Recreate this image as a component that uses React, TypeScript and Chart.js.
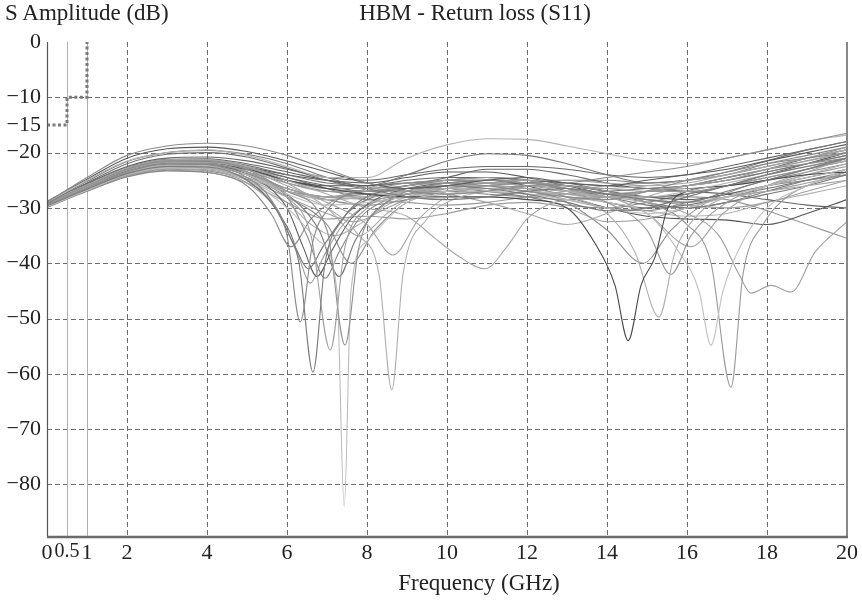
import React, { useEffect, useRef } from "react";
import { Chart, registerables } from "chart.js";
Chart.register(...registerables);

const xTicks = [0, 0.5, 1, 2, 4, 6, 8, 10, 12, 14, 16, 18, 20];
const yTicks = [0, -10, -15, -20, -30, -40, -50, -60, -70, -80];
const xGrid = [2, 4, 6, 8, 10, 12, 14, 16, 18];
const yGrid = [-10, -20, -30, -40, -50, -60, -70, -80];
const refLines = [0.5, 1];
const maskFreq = [0, 0.5, 0.5, 1, 1];
const maskLimit = [-15, -15, -10, -10, 0];

// S11 traces: [frequency GHz, amplitude dB]
const s01 = [[0,-29],[1,-24.5],[2,-20.5],[3,-18.8],[4,-18.3],[5,-18.8],[6,-20.5],[7,-23],[8,-25.5],[9,-27],[10,-27.5],[11,-27],[12,-26],[13,-25.5],[14,-24.5],[15,-23.5],[16,-22.5],[17,-21],[18,-19.5],[19,-18],[20,-16.5]];
const s02 = [[0,-29],[1,-25],[2,-21.5],[3,-20],[4,-19.5],[5,-20.5],[6,-22.5],[7,-24.5],[8,-24.5],[9,-21],[10,-18.6],[11,-17.5],[12,-17.6],[13,-18.8],[14,-20.2],[15,-21.5],[16,-22],[17,-21],[18,-19.5],[19,-18],[20,-16.8]];
const s03 = [[0,-28.8],[1,-24.8],[2,-21],[3,-19.3],[4,-19],[5,-19.8],[6,-21.5],[7,-23.5],[8,-25.5],[9,-26.5],[10,-26],[11,-25],[12,-24.5],[13,-25.5],[14,-26],[15,-25],[16,-24],[17,-23],[18,-21.5],[19,-20],[20,-18.5]];
const s04 = [[0,-29.2],[1,-25.2],[2,-21.6],[3,-20],[4,-19.6],[5,-20.3],[6,-22],[7,-24.5],[8,-26.5],[9,-28],[10,-28.5],[11,-28],[12,-27],[13,-26.5],[14,-27.5],[15,-28.5],[16,-29],[17,-27],[18,-25],[19,-23],[20,-21]];
const s05 = [[0,-29.5],[1,-26.5],[2,-23.5],[3,-22],[4,-22.2],[5,-24.5],[5.6,-28.5],[6,-35],[6.33,-50.6],[6.65,-36],[7,-30.5],[8,-26.5],[9,-25.5],[10,-25.5],[11,-26],[12,-27],[13,-28],[14,-28.5],[15,-27],[16,-25],[17,-23.5],[18,-22],[19,-21],[20,-20]];
const s06 = [[0,-29.6],[1,-26.6],[2,-23.8],[3,-22.5],[4,-22.6],[5,-25],[5.8,-31],[6.3,-40],[6.65,-59.7],[6.95,-40],[7.4,-32],[8,-28],[9,-26.5],[10,-26],[11,-26.5],[12,-27.5],[13,-29],[14,-30.5],[15,-30],[16,-28],[17,-26],[18,-24],[19,-22.5],[20,-21]];
const s07 = [[0,-29.4],[1,-26.4],[2,-23.4],[3,-22],[4,-22],[5,-23.5],[6,-28],[6.6,-35],[7.08,-55.7],[7.45,-37],[8,-30],[9,-27.5],[10,-26.5],[11,-26],[12,-26.5],[13,-27.5],[14,-28],[15,-27],[16,-26],[17,-25],[18,-23],[19,-21.5],[20,-20]];
const s08 = [[0,-29.2],[1,-26],[2,-23],[3,-21.5],[4,-21.5],[5,-23],[6,-27],[7,-34],[7.45,-54.8],[7.8,-37],[8.5,-29],[9,-27],[10,-25.5],[11,-25],[12,-25.5],[13,-26.5],[14,-27.5],[15,-27],[16,-26],[17,-24.5],[18,-23],[19,-22],[20,-21]];
const s09 = [[0,-29.8],[1,-26.8],[2,-24],[3,-22.8],[4,-23],[5,-25],[6,-30],[6.8,-36],[7.25,-45],[7.43,-84],[7.6,-45],[8,-36],[9,-29],[10,-27.5],[11,-27],[12,-27.5],[13,-28.5],[14,-30],[15,-31],[16,-30],[17,-28],[18,-26],[19,-24.5],[20,-23]];
const s10 = [[0,-29.5],[1,-26.5],[2,-23.6],[3,-22.3],[4,-22.5],[5,-24],[6,-27],[7,-30],[7.8,-35],[8.3,-42],[8.62,-62.9],[8.9,-42],[9.5,-32],[10,-29],[11,-27],[12,-26.5],[13,-27],[14,-28],[15,-28],[16,-27],[17,-25.5],[18,-24],[19,-22.5],[20,-21.5]];
const s11 = [[0,-29.3],[1,-26.2],[2,-23.2],[3,-21.8],[4,-21.8],[5,-23],[6,-26],[7,-29],[8,-33],[8.65,-38.5],[9.3,-32],[10,-28],[11,-26],[12,-25],[13,-25],[14,-25.5],[15,-26],[16,-25.5],[17,-24],[18,-22.5],[19,-21],[20,-19.5]];
const s12 = [[0,-29],[1,-25.8],[2,-22.8],[3,-21.3],[4,-21.3],[5,-22.5],[6,-25],[7,-27.5],[8,-30],[9,-31.5],[9.7,-35.5],[10.3,-38.8],[10.95,-41],[11.5,-37],[12,-32],[12.5,-29.5],[13,-28.5],[14,-28],[15,-28.5],[16,-29],[17,-28],[18,-27],[19,-26],[20,-25]];
const s13 = [[0,-29.4],[1,-26.3],[2,-23.3],[3,-22],[4,-22],[5,-23],[6,-25],[7,-26.5],[8,-27.5],[9,-28],[10,-28],[11,-28],[12,-28.5],[13,-30],[13.7,-36.4],[14.2,-44],[14.53,-54],[14.85,-44],[15.2,-38.9],[15.5,-30.4],[16,-27],[17,-26],[18,-25],[19,-24],[20,-23.5]];
const s14 = [[0,-29.7],[1,-26.7],[2,-23.9],[3,-22.7],[4,-22.8],[5,-24.5],[6,-27],[7,-28.5],[8,-28],[9,-27],[10,-26.5],[11,-26.5],[12,-27],[13,-28],[14,-31],[14.7,-38],[15.3,-49.7],[15.7,-38],[16.3,-31],[17,-28],[18,-26],[19,-24],[20,-22]];
const s15 = [[0,-29.2],[1,-26.1],[2,-23.1],[3,-21.7],[4,-21.7],[5,-22.8],[6,-25.5],[7,-27],[8,-27],[9,-26],[10,-25],[11,-24.5],[12,-25],[13,-26.5],[14,-29],[15,-34],[15.6,-42],[16.1,-35],[17,-29],[18,-26],[19,-24],[20,-22.5]];
const s16 = [[0,-29.5],[1,-26.4],[2,-23.5],[3,-22.2],[4,-22.3],[5,-24],[6,-27.5],[7,-29.5],[8,-29],[9,-28],[10,-27],[11,-26.5],[12,-27],[13,-27.5],[14,-29],[15,-31],[15.8,-38],[16.3,-45],[16.6,-54.8],[16.9,-45],[17.4,-36],[18,-30],[19,-26],[20,-23]];
const s17 = [[0,-29.1],[1,-25.9],[2,-22.9],[3,-21.5],[4,-21.4],[5,-22.6],[6,-25],[7,-26.5],[8,-26.5],[9,-25.5],[10,-25],[11,-25],[12,-25.5],[13,-26],[14,-27],[15,-29],[16,-33],[16.6,-40],[17.1,-62.4],[17.4,-42],[17.9,-33],[18.5,-28],[19,-26],[20,-23.5]];
const s18 = [[0,-29.6],[1,-26.5],[2,-23.7],[3,-22.4],[4,-22.5],[5,-24],[6,-26.5],[7,-28],[8,-28],[9,-27],[10,-26],[11,-25.5],[12,-26],[13,-27],[14,-28],[15,-29],[16,-31],[16.8,-35],[17.3,-42],[17.6,-45.4],[18.1,-44],[18.6,-45.2],[19.2,-38],[20,-32.5]];
const s19 = [[0,-29.3],[1,-26.2],[2,-23.3],[3,-21.9],[4,-22],[5,-23.5],[6,-26.5],[7,-28],[8,-27.5],[9,-26.5],[10,-26],[11,-26],[12,-26.5],[13,-29],[14,-34],[14.9,-40],[15.6,-34],[16.5,-29],[17.5,-26],[18.5,-24],[20,-21]];
const s20 = [[0,-29.5],[1,-26.5],[2,-23.6],[3,-22.3],[4,-22.4],[5,-24],[6,-27],[7,-28.5],[8,-28],[9,-27],[10,-26.5],[11,-26.5],[12,-27],[13,-27.5],[14,-28],[15,-31],[16.1,-37],[16.9,-31],[18,-26],[19,-23.5],[20,-21]];
const s21 = [[0,-29.4],[1,-26.2],[2,-23.2],[3,-21.8],[4,-21.8],[5,-23],[6,-25],[7,-26],[8,-26],[9,-25.5],[10,-25],[11,-25],[12,-26],[13,-28],[14,-30],[15,-31.5],[16,-32],[17,-32.2],[18,-33],[19,-31],[20,-28.5]];
const s22 = [[0,-29.7],[1,-26.7],[2,-24],[3,-22.8],[4,-23],[5,-25],[5.7,-30],[6.2,-37],[6.53,-41],[6.9,-37],[7.5,-31],[8,-28.5],[9,-27],[10,-26.5],[11,-26.5],[12,-27],[13,-27.5],[14,-27],[15,-26.5],[16,-26],[17,-25],[18,-23.5],[19,-22],[20,-20.5]];
const s23 = [[0,-29.4],[1,-26.4],[2,-23.5],[3,-22.2],[4,-22.3],[5,-24],[6,-30],[6.4,-37],[6.75,-42.4],[7.1,-38],[7.6,-32],[8.2,-28.5],[9,-26.5],[10,-25.5],[11,-25],[12,-25.5],[13,-26],[14,-27],[15,-28],[16,-28.5],[17,-27.5],[18,-26],[19,-24.5],[20,-23]];
const s24 = [[0,-29.2],[1,-26],[2,-23],[3,-21.7],[4,-21.8],[5,-23.5],[6,-28],[6.5,-35],[6.95,-42.7],[7.3,-38],[7.8,-32],[8.5,-28.5],[9,-27.5],[10,-27],[11,-27.5],[12,-28],[13,-28.5],[14,-28],[15,-27],[16,-26.5],[17,-26],[18,-25],[19,-23.5],[20,-22]];
const s25 = [[0,-29.6],[1,-26.6],[2,-23.7],[3,-22.4],[4,-22.5],[5,-24],[6,-27.5],[6.8,-34],[7.3,-42.4],[7.7,-36],[8.3,-30],[9,-27.5],[10,-26],[11,-25.5],[12,-25.5],[13,-26.5],[14,-28],[15,-29.5],[16,-30],[17,-29],[18,-27.5],[19,-26],[20,-24]];
const s26 = [[0,-29.8],[1,-26.9],[2,-24.2],[3,-23],[4,-23.3],[5,-25.5],[5.8,-31],[6.3,-39],[6.58,-43.6],[6.9,-39],[7.4,-33],[8,-29.5],[9,-28],[10,-27],[11,-26.5],[12,-26],[13,-26],[14,-26.5],[15,-27],[16,-27],[17,-26],[18,-24.5],[19,-23],[20,-21.5]];
const s27 = [[0,-29],[1,-25.9],[2,-22.9],[3,-21.4],[4,-21.3],[5,-22.5],[6,-25.5],[7,-30],[7.8,-35],[8.5,-31],[9,-28.5],[10,-26.5],[11,-25.5],[12,-25.5],[13,-26],[14,-26.5],[15,-26],[16,-25],[17,-24],[18,-22.5],[19,-21],[20,-19.5]];
const s28 = [[0,-29.9],[1,-27],[2,-24.4],[3,-23.3],[4,-23.6],[5,-26],[5.6,-31],[6.1,-37],[6.6,-32],[7.2,-28.5],[8,-27],[9,-26.5],[10,-26.5],[11,-27],[12,-28],[13,-29.5],[14,-30],[15,-29],[16,-27.5],[17,-26],[18,-24.5],[19,-23],[20,-21.5]];
const s29 = [[0,-29.1],[1,-25.9],[2,-22.9],[3,-21.4],[4,-21.3],[5,-22.3],[6,-24],[7,-25.5],[8,-26],[9,-24],[10,-21.5],[11,-20.2],[12,-20.5],[13,-22],[14,-24],[15,-25.5],[16,-25],[17,-23.5],[18,-21.5],[19,-19.5],[20,-18]];
const s30 = [[0,-29.3],[1,-26.2],[2,-23.2],[3,-21.8],[4,-21.7],[5,-22.8],[6,-24.5],[7,-26],[8,-27],[9,-26],[10,-24.5],[11,-23],[12,-23],[13,-24],[14,-25.5],[15,-26.5],[16,-26],[17,-24.5],[18,-23],[19,-21],[20,-19.5]];
const s31 = [[0,-29.5],[1,-26.5],[2,-23.6],[3,-22.2],[4,-22.2],[5,-23.5],[6,-25.5],[7,-27],[8,-27.5],[9,-27.5],[10,-27],[11,-26.5],[12,-26.5],[13,-27],[14,-27.5],[15,-27],[16,-26],[17,-25],[18,-23.5],[19,-22],[20,-20.5]];
const s32 = [[0,-29.8],[1,-26.8],[2,-24.1],[3,-22.9],[4,-23.1],[5,-24.8],[6,-27],[7,-28],[8,-28.5],[9,-29],[10,-29.5],[11,-29],[12,-28],[13,-27],[14,-26],[15,-25.5],[16,-25],[17,-24],[18,-22.5],[19,-21],[20,-19]];
const s33 = [[0,-29],[1,-25.7],[2,-22.7],[3,-21.2],[4,-21.1],[5,-22],[6,-23.5],[7,-25],[8,-26],[9,-25],[10,-24.5],[11,-24.5],[12,-25],[13,-25.5],[14,-26],[15,-26.5],[16,-27],[17,-27.5],[18,-28.5],[19,-29.5],[20,-30]];
const s34 = [[0,-29.4],[1,-26.3],[2,-23.4],[3,-22],[4,-22],[5,-23.2],[6,-25],[7,-26.5],[8,-27],[9,-26],[10,-25.5],[11,-25.5],[12,-26],[13,-26.5],[14,-27.5],[15,-28],[16,-28],[17,-28.5],[18,-30.5],[19,-33],[20,-35.5]];
const s35 = [[0,-29.6],[1,-26.6],[2,-23.8],[3,-22.5],[4,-22.7],[5,-24.5],[6,-27],[7,-28],[8,-27],[9,-27],[10,-27.5],[11,-29],[12,-31],[13,-33],[14,-31],[15,-28],[16,-26],[17,-24.5],[18,-23],[19,-21.5],[20,-20]];
const s36 = [[0,-29.2],[1,-26],[2,-23],[3,-21.6],[4,-21.5],[5,-22.6],[6,-24.5],[7,-26.5],[8,-28.5],[9,-27.5],[10,-26],[11,-25],[12,-25],[13,-25.5],[14,-27],[15,-29],[16,-30],[17,-29],[18,-27],[19,-25],[20,-23.5]];
const s37 = [[0,-29.3],[1,-26.1],[2,-23.1],[3,-21.7],[4,-21.6],[5,-22.6],[6,-24],[7,-25],[8,-25.5],[9,-24.5],[10,-23.5],[11,-23.5],[12,-24.5],[13,-26],[14,-27.5],[15,-28],[16,-27.5],[17,-26],[18,-24],[19,-22],[20,-20]];
const s38 = [[0,-29.5],[1,-26.4],[2,-23.5],[3,-22.1],[4,-22.1],[5,-23.8],[6,-26.5],[7,-28.5],[8,-29.5],[9,-28.5],[10,-27],[11,-26],[12,-25.5],[13,-25],[14,-25],[15,-25.5],[16,-25],[17,-24],[18,-22],[19,-20.5],[20,-19]];
const s39 = [[0,-29.7],[1,-26.7],[2,-23.9],[3,-22.6],[4,-22.8],[5,-24.8],[6,-28],[7,-31],[7.7,-32.5],[8.5,-30],[9,-28.5],[10,-27],[11,-26],[12,-25.5],[13,-26],[14,-27],[15,-28.5],[16,-29.5],[17,-30],[18,-29],[19,-27],[20,-25]];
const s40 = [[0,-29],[1,-25.6],[2,-22.5],[3,-21],[4,-20.8],[5,-21.5],[6,-23],[7,-24.5],[8,-25],[9,-24],[10,-23],[11,-22.5],[12,-22.5],[13,-23],[14,-24],[15,-24.5],[16,-24],[17,-22.5],[18,-21],[19,-19.5],[20,-18]];
const s41 = [[0,-29.8],[1,-26.9],[2,-24.3],[3,-23.2],[4,-23.5],[5,-25.5],[6,-29],[7,-32],[8,-31.5],[9,-32],[10,-31],[11,-29.5],[12,-29],[13,-30],[14,-32.5],[15,-32],[16,-30],[17,-28],[18,-27],[19,-25.5],[20,-24]];
const s42 = [[0,-29.3],[1,-26.2],[2,-23.3],[3,-22],[4,-22.2],[5,-24],[6,-28],[7,-33],[7.6,-40],[8.2,-34],[9,-29],[10,-27],[11,-26.5],[12,-27],[13,-28.5],[14,-30],[15,-30.5],[16,-29],[17,-27.5],[18,-26],[19,-25],[20,-24]];
const s43 = [[0,-29.1],[1,-25.5],[2,-22],[3,-20.3],[4,-20],[5,-20.8],[6,-22.8],[7,-25],[8,-26.5],[9,-26],[10,-25],[11,-24.5],[12,-25],[13,-27],[14,-29],[15,-30],[16,-29.5],[17,-28],[18,-26.5],[19,-25],[20,-24]];
const s44 = [[0,-29.6],[1,-26.6],[2,-23.9],[3,-22.6],[4,-22.9],[5,-25],[6,-29],[6.6,-33],[7.2,-35],[7.8,-33],[8.5,-29.5],[9,-28],[10,-27],[11,-27],[12,-27.5],[13,-28],[14,-29],[15,-30.5],[16,-31.5],[17,-31],[18,-29],[19,-27.5],[20,-26]];

const curves = [s01,s02,s03,s04,s05,s06,s07,s08,s09,s10,s11,s12,s13,s14,s15,s16,s17,s18,s19,s20,s21,s22,s23,s24,s25,s26,s27,s28,s29,s30,s31,s32,s33,s34,s35,s36,s37,s38,s39,s40,s41,s42,s43,s44];
const curveColors = ["#8c8c8c","#b4b4b4","#5a5a5a","#7a7a7a","#8a8a8a","#7a7a7a","#a0a0a0","#909090","#bdbdbd","#b0b0b0","#a5a5a5","#a8a8a8","#474747","#b0b0b0","#999999","#c0c0c0","#9a9a9a","#a0a0a0","#8e8e8e","#a8a8a8","#555555","#777777","#5e5e5e","#888888","#777777","#999999","#aaaaaa","#888888","#777777","#6a6a6a","#8a8a8a","#999999","#666666","#999999","#aaaaaa","#7a7a7a","#5a5a5a","#888888","#a0a0a0","#666666","#9c9c9c","#8a8a8a","#707070","#b2b2b2"];

const FONT = "'Liberation Serif', 'DejaVu Serif', serif";

const framePlugin = {
  id: "frame",
  beforeDatasetsDraw(chart: any) {
    const { ctx, chartArea: a, scales } = chart;
    const x = scales.x, y = scales.y;
    ctx.save();
    ctx.lineWidth = 1;
    ctx.strokeStyle = "#6e6e6e";
    ctx.setLineDash([5, 3]);
    for (const v of xGrid) {
      const px = Math.round(x.getPixelForValue(v)) + 0.5;
      ctx.beginPath(); ctx.moveTo(px, a.top); ctx.lineTo(px, a.bottom); ctx.stroke();
    }
    for (const v of yGrid) {
      const py = Math.round(y.getPixelForValue(v)) + 0.5;
      ctx.beginPath(); ctx.moveTo(a.left, py); ctx.lineTo(a.right, py); ctx.stroke();
    }
    ctx.setLineDash([]);
    ctx.strokeStyle = "#b0b0b0";
    for (const v of refLines) {
      const px = Math.round(x.getPixelForValue(v)) + 0.5;
      ctx.beginPath(); ctx.moveTo(px, a.top); ctx.lineTo(px, a.bottom); ctx.stroke();
    }
    ctx.restore();
  },
  afterDatasetsDraw(chart: any) {
    const { ctx, chartArea: a } = chart;
    ctx.save();
    ctx.strokeStyle = "#555";
    ctx.lineWidth = 1.2;
    ctx.beginPath(); ctx.moveTo(a.left + 0.5, a.top); ctx.lineTo(a.left + 0.5, a.bottom); ctx.stroke();
    ctx.strokeStyle = "#888";
    ctx.lineWidth = 2;
    ctx.beginPath(); ctx.moveTo(a.right, a.top); ctx.lineTo(a.right, a.bottom); ctx.stroke();
    ctx.strokeStyle = "#6a6a6a";
    ctx.lineWidth = 2.5;
    ctx.beginPath(); ctx.moveTo(a.left, a.bottom); ctx.lineTo(a.right + 1, a.bottom); ctx.stroke();
    ctx.restore();
  },
};

export default function App() {
  const ref = useRef<HTMLCanvasElement | null>(null);
  useEffect(() => {
    if (!ref.current) return;
    const datasets: any[] = curves.map((c, i) => ({
      data: c.map((p) => ({ x: p[0], y: p[1] })),
      borderColor: curveColors[i],
      borderWidth: 1.1,
      pointRadius: 0,
      fill: false,
      cubicInterpolationMode: "monotone",
      tension: 0.4,
    }));
    datasets.push({
      data: maskFreq.map((f, i) => ({ x: f, y: maskLimit[i] })),
      borderColor: "#7a7a7a",
      borderWidth: 3,
      borderDash: [3, 2.5],
      pointRadius: 0,
      fill: false,
      tension: 0,
    });
    const chart = new Chart(ref.current, {
      type: "line",
      data: { datasets },
      plugins: [framePlugin],
      options: {
        responsive: false,
        animation: false,
        layout: { padding: { top: 42, right: 15, left: 0, bottom: 0 } },
        plugins: { legend: { display: false }, tooltip: { enabled: false }, title: { display: false } },
        scales: {
          x: {
            type: "linear",
            min: 0,
            max: 20,
            grid: { display: false, drawTicks: false },
            border: { display: false },
            afterBuildTicks: (s: any) => { s.ticks = xTicks.map((v) => ({ value: v })); },
            afterFit: (s: any) => { s.height = 63; },
            ticks: {
              autoSkip: false,
              maxRotation: 0,
              padding: 3,
              color: "#222",
              font: (c: any) => ({ family: FONT, size: c.tick && c.tick.value === 0.5 ? 20 : 22 }),
              callback: (v: any) => String(v),
            },
          },
          y: {
            type: "linear",
            min: -89.5,
            max: 0,
            grid: { display: false, drawTicks: false },
            border: { display: false },
            afterBuildTicks: (s: any) => { s.ticks = yTicks.map((v) => ({ value: v })); },
            afterFit: (s: any) => { s.width = 47; },
            ticks: {
              autoSkip: false,
              padding: 6,
              color: "#222",
              font: { family: FONT, size: 22 },
              callback: (v: any) => (v < 0 ? "\u2212" + String(-v) : String(v)),
            },
          },
        },
      } as any,
    });
    return () => chart.destroy();
  }, []);

  const textStyle: React.CSSProperties = {
    position: "absolute",
    fontFamily: FONT,
    fontSize: 23,
    lineHeight: "26px",
    color: "#222",
    whiteSpace: "nowrap",
  };

  return (
    <div style={{ position: "fixed", left: 0, top: 0, width: 862, height: 600, background: "#fff" }}>
      <canvas ref={ref} width={862} height={600} style={{ display: "block", width: 862, height: 600 }} />
      <div style={{ ...textStyle, left: 5, top: 0 }}>S Amplitude (dB)</div>
      <div style={{ ...textStyle, left: 475, top: 0, transform: "translateX(-50%)" }}>HBM - Return loss (S11)</div>
      <div style={{ ...textStyle, left: 479, top: 570, transform: "translateX(-50%)" }}>Frequency (GHz)</div>
    </div>
  );
}
